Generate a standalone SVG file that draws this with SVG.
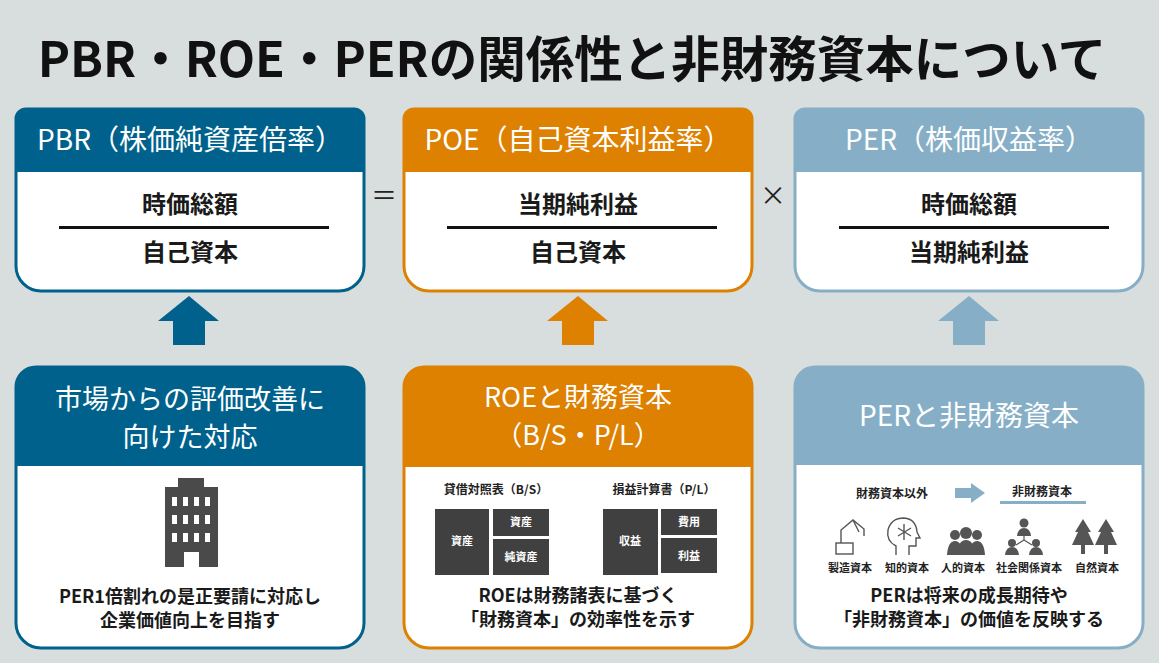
<svg xmlns="http://www.w3.org/2000/svg" width="1159" height="663" viewBox="0 0 1159 663">
<style>
text{font-family:"Noto Sans CJK JP","Noto Sans",sans-serif;text-anchor:middle}
.h{fill:#fff;font-size:28px}
.h2{fill:#fff;font-size:27px}
.b{font-weight:bold;fill:#1a1a1a}
.f{font-size:24px}
.blk{fill:#404040}
.bw{fill:#fff;font-size:11px;font-weight:bold}
.ic{font-size:11px;font-weight:bold;fill:#222}
.t{font-size:18px}
</style>
<rect width="1159" height="663" fill="#D8DDDD"/>
<text x="572" y="77" font-size="48.5" font-weight="bold" fill="#111">PBR・ROE・PERの関係性と非財務資本について</text>

<g id="pbr">
<path d="M26,109H354A10,10 0 0 1 364,119V266A25,25 0 0 1 339,291H41A25,25 0 0 1 16,266V119A10,10 0 0 1 26,109Z" fill="#fff" stroke="#00628C" stroke-width="3"/>
<path d="M26,109H354A10,10 0 0 1 364,119V172H16V119A10,10 0 0 1 26,109Z" fill="#00628C"/>
<text class="h" x="190" y="150">PBR（株価純資産倍率）</text>
<text class="b f" x="190" y="213">時価総額</text>
<rect x="59" y="226" width="270" height="3" fill="#111"/>
<text class="b f" x="190" y="261">自己資本</text>
</g>
<g id="roe">
<path d="M414,109H742A10,10 0 0 1 752,119V266A25,25 0 0 1 727,291H429A25,25 0 0 1 404,266V119A10,10 0 0 1 414,109Z" fill="#fff" stroke="#DE8000" stroke-width="3"/>
<path d="M414,109H742A10,10 0 0 1 752,119V172H404V119A10,10 0 0 1 414,109Z" fill="#DE8000"/>
<text class="h" x="578" y="150">POE（自己資本利益率）</text>
<text class="b f" x="578" y="213">当期純利益</text>
<rect x="447" y="226" width="270" height="3" fill="#111"/>
<text class="b f" x="578" y="261">自己資本</text>
</g>
<g id="per">
<path d="M805,109H1133A10,10 0 0 1 1143,119V266A25,25 0 0 1 1118,291H820A25,25 0 0 1 795,266V119A10,10 0 0 1 805,109Z" fill="#fff" stroke="#86AFC7" stroke-width="3"/>
<path d="M805,109H1133A10,10 0 0 1 1143,119V172H795V119A10,10 0 0 1 805,109Z" fill="#86AFC7"/>
<text class="h" x="969" y="150">PER（株価収益率）</text>
<text class="b f" x="969" y="213">時価総額</text>
<rect x="839" y="226" width="270" height="3" fill="#111"/>
<text class="b f" x="969" y="261">当期純利益</text>
</g>
<text x="384" y="205" font-size="26" fill="#222">＝</text>
<text x="773" y="205" font-size="26" fill="#222">×</text>

<g id="connectors">
<polygon points="189,296 219,321 205,321 205,345 173,345 173,321 158,321" fill="#00628C"/>
<polygon points="578,296 608,321 594,321 594,345 562,345 562,321 547,321" fill="#DE8000"/>
<polygon points="969,296 999,321 985,321 985,345 953,345 953,321 938,321" fill="#86AFC7"/>
</g>

<g id="market">
<path d="M36,367H344A20,20 0 0 1 364,387V623A25,25 0 0 1 339,648H41A25,25 0 0 1 16,623V387A20,20 0 0 1 36,367Z" fill="#fff" stroke="#00628C" stroke-width="3"/>
<path d="M36,367H344A20,20 0 0 1 364,387V466H16V387A20,20 0 0 1 36,367Z" fill="#00628C"/>
<text class="h2" x="190" y="409">市場からの評価改善に</text>
<text class="h2" x="190" y="447">向けた対応</text>
<rect x="178" y="478" width="26" height="10" fill="#4a4a4a"/>
<rect x="165" y="487" width="53" height="80" fill="#4a4a4a"/>
<g fill="#fff">
<rect x="172" y="497" width="5" height="9"/><rect x="183" y="497" width="5" height="9"/><rect x="194" y="497" width="5" height="9"/><rect x="205" y="497" width="5" height="9"/>
<rect x="172" y="515" width="5" height="9"/><rect x="183" y="515" width="5" height="9"/><rect x="194" y="515" width="5" height="9"/><rect x="205" y="515" width="5" height="9"/>
<rect x="172" y="533" width="5" height="9"/><rect x="183" y="533" width="5" height="9"/><rect x="194" y="533" width="5" height="9"/><rect x="205" y="533" width="5" height="9"/>
<rect x="184" y="552" width="15" height="15"/>
</g>
<text class="b t" x="190" y="603">PER1倍割れの是正要請に対応し</text>
<text class="b t" x="190" y="627">企業価値向上を目指す</text>
</g>

<g id="financial">
<path d="M424,367H732A20,20 0 0 1 752,387V623A25,25 0 0 1 727,648H429A25,25 0 0 1 404,623V387A20,20 0 0 1 424,367Z" fill="#fff" stroke="#DE8000" stroke-width="3"/>
<path d="M424,367H732A20,20 0 0 1 752,387V467H404V387A20,20 0 0 1 424,367Z" fill="#DE8000"/>
<text class="h2" x="578" y="407">ROEと財務資本</text>
<text class="h2" x="578" y="445">（B/S・P/L）</text>
<text x="496" y="494" font-size="12" font-weight="bold" fill="#222">貸借対照表（B/S）</text>
<text x="664" y="494" font-size="12" font-weight="bold" fill="#222">損益計算書（P/L）</text>
<rect class="blk" x="435" y="509" width="54" height="66"/>
<rect class="blk" x="493" y="509" width="56" height="27"/>
<rect class="blk" x="493" y="539" width="56" height="36"/>
<rect class="blk" x="603" y="509" width="55" height="66"/>
<rect class="blk" x="661" y="509" width="56" height="26"/>
<rect class="blk" x="661" y="538" width="56" height="35"/>
<text class="bw" x="462" y="545">資産</text>
<text class="bw" x="521" y="526">資産</text>
<text class="bw" x="521" y="561">純資産</text>
<text class="bw" x="630" y="545">収益</text>
<text class="bw" x="689" y="526">費用</text>
<text class="bw" x="689" y="560">利益</text>
<text class="b t" x="578" y="602">ROEは財務諸表に基づく</text>
<text class="b t" x="578" y="626">「財務資本」の効率性を示す</text>
</g>

<g id="nonfinancial">
<path d="M815,367H1123A20,20 0 0 1 1143,387V623A25,25 0 0 1 1118,648H820A25,25 0 0 1 795,623V387A20,20 0 0 1 815,367Z" fill="#fff" stroke="#86AFC7" stroke-width="3"/>
<path d="M815,367H1123A20,20 0 0 1 1143,387V465H795V387A20,20 0 0 1 815,367Z" fill="#86AFC7"/>
<text class="h" x="969" y="426">PERと非財務資本</text>
<text x="892" y="498" font-size="12" font-weight="bold" fill="#222">財務資本以外</text>
<polygon points="955,488 971,488 971,483 985,493 971,503 971,498 955,498" fill="#86AFC7"/>
<text x="1042" y="496" font-size="12" font-weight="bold" fill="#222">非財務資本</text>
<rect x="1000" y="501" width="86" height="3" fill="#86AFC7"/>
<g fill="none" stroke="#555" stroke-width="1.4">
<rect x="836" y="543" width="17" height="11"/><path d="M841,543V530L853,520L864,529V536M853,520L859,532"/>
<path d="M896,555V546Q886,541 888,530Q891,518 904,518Q916,519 917,532L920,538H916V546H909V555"/>
<path d="M898,528L911,536M911,528L898,536M904,524V540"/>
</g>
<g fill="#555">
<circle cx="955" cy="535" r="5"/><circle cx="966" cy="533" r="6"/><circle cx="977" cy="535" r="5"/>
<path d="M947,555Q948,541 955,541Q962,541 963,555ZM957,555Q958,540 966,540Q974,540 975,555ZM969,555Q970,541 977,541Q984,541 985,555Z"/>
<circle cx="1024" cy="523" r="4.5"/><path d="M1017,536Q1018,528 1024,528Q1030,528 1031,536Z"/>
<circle cx="1012" cy="543" r="4"/><path d="M1005,555Q1006,547 1012,547Q1018,547 1019,555Z"/>
<circle cx="1036" cy="543" r="4"/><path d="M1029,555Q1030,547 1036,547Q1042,547 1043,555Z"/>
<path d="M1083,519L1075,532H1078L1072,545H1094L1088,532H1091Z"/><rect x="1081" y="545" width="4" height="9"/>
<path d="M1106,519L1098,532H1101L1095,545H1117L1111,532H1114Z"/><rect x="1104" y="545" width="4" height="9"/>
</g>
<path d="M1024,536V540M1024,540L1016,545M1024,540L1032,545" stroke="#555" stroke-width="1.2"/>
<text class="ic" x="850" y="572">製造資本</text>
<text class="ic" x="907" y="572">知的資本</text>
<text class="ic" x="963" y="572">人的資本</text>
<text class="ic" x="1029" y="572">社会関係資本</text>
<text class="ic" x="1097" y="572">自然資本</text>
<text class="b t" x="969" y="602">PERは将来の成長期待や</text>
<text class="b t" x="969" y="626">「非財務資本」の価値を反映する</text>
</g>
</svg>
